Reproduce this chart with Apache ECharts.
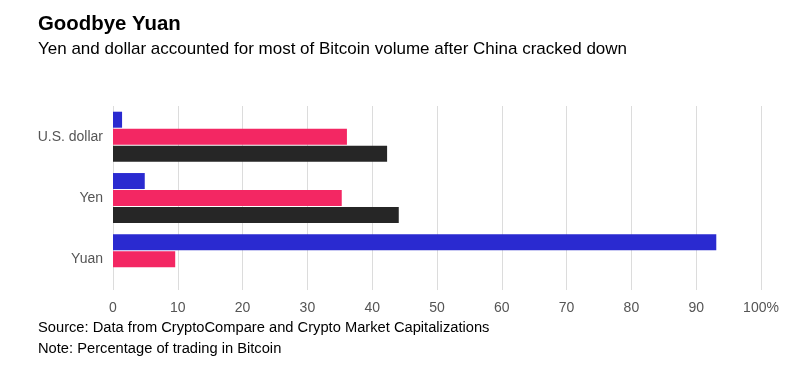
<!DOCTYPE html>
<html><head><meta charset="utf-8">
<script src="https://cdn.jsdelivr.net/npm/echarts@6/dist/echarts.min.js"></script>
<style>html,body{margin:0;padding:0;background:#fff}#c{width:800px;height:370px}</style>
</head><body><div id="c"></div>
<script>
var categories = ["Yuan", "Yen", "U.S. dollar"];
var seriesNames = ["Series A", "Series B", "Series C"];
var blueValues = [93.1, 4.9, 1.4];
var pinkValues = [9.6, 35.3, 36.1];
var blackValues = [0, 44.1, 42.3];
var xTicks = [0, 10, 20, 30, 40, 50, 60, 70, 80, 90, 100];

var chart = echarts.init(document.getElementById('c'), null, {renderer: 'canvas'});
var font = '"Liberation Sans", Arial, Helvetica, sans-serif';
chart.setOption({
  animation: false,
  textStyle: {fontFamily: font},
  title: [
    {text: 'Goodbye Yuan', left: 33, top: 9.5, textStyle: {fontFamily: font, fontSize: 20.4, fontWeight: 'bold', color: '#000'}},
    {text: 'Yen and dollar accounted for most of Bitcoin volume after China cracked down', left: 33, top: 36, textStyle: {fontFamily: font, fontSize: 17, fontWeight: 'normal', color: '#000'}},
    {text: 'Source: Data from CryptoCompare and Crypto Market Capitalizations', left: 33, top: 315, textStyle: {fontFamily: font, fontSize: 14.7, fontWeight: 'normal', color: '#000'}},
    {text: 'Note: Percentage of trading in Bitcoin', left: 33, top: 336.5, textStyle: {fontFamily: font, fontSize: 14.7, fontWeight: 'normal', color: '#000'}}
  ],
  grid: {left: 113, right: 39, top: 106, bottom: 80, containLabel: false},
  xAxis: {
    type: 'value', min: xTicks[0], max: xTicks[xTicks.length - 1], interval: 10,
    axisLine: {show: false}, axisTick: {show: false},
    splitLine: {show: true, lineStyle: {color: '#dcdcdc', width: 1}},
    axisLabel: {color: '#555', fontSize: 14, margin: 11, formatter: function (v) { return v === 100 ? '100%' : String(v); }}
  },
  yAxis: {
    type: 'category', data: categories,
    axisLine: {show: false}, axisTick: {show: false},
    axisLabel: {color: '#555', fontSize: 14, margin: 10}
  },
  series: [
    {name: seriesNames[0], type: 'bar', data: blueValues, barWidth: 16, barGap: '6%', barCategoryGap: '15%', itemStyle: {color: '#2a2ad0'}},
    {name: seriesNames[1], type: 'bar', data: pinkValues, barWidth: 16, barGap: '6%', itemStyle: {color: '#f32763'}},
    {name: seriesNames[2], type: 'bar', data: blackValues, barWidth: 16, barGap: '6%', itemStyle: {color: '#262626'}}
  ]
});
</script></body></html>
